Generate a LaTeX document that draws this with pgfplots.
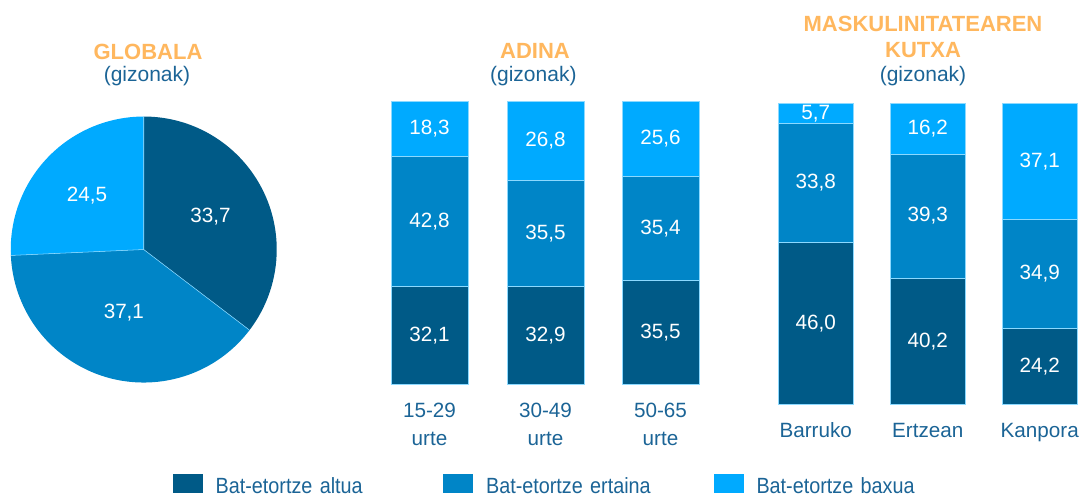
\documentclass[border=0pt]{standalone}
\usepackage{fontspec}
\setmainfont{Liberation Sans}
\newfontfamily\condfont[FakeStretch=0.9]{Liberation Sans}
\usepackage{pgfplots}
\pgfplotsset{compat=1.18}
\usepackage{pgfplotstable}

\definecolor{cA}{RGB}{0,90,135}
\definecolor{cB}{RGB}{0,133,199}
\definecolor{cC}{RGB}{0,170,255}
\definecolor{titleor}{RGB}{255,183,94}
\definecolor{txtblue}{RGB}{27,100,150}

% GLOBALA pie (gizonak)
\pgfplotstableread{
seg value
altua 33.7
ertaina 37.1
baxua 24.5
}\globaltable

\pgfplotsset{
  barax/.style={
    scale only axis, width=57.75pt,
    xmin=-0.5, xmax=0.5, ymin=0,
    ybar stacked, bar width=1,
    axis line style={draw=none}, major tick length=0pt,
    ytick=\empty, xtick={0},
    xticklabel style={font=\fontsize{15.5}{21}\selectfont, text=txtblue,
      align=center, anchor=north, inner sep=0pt, yshift=-13.8pt},
    every axis plot/.append style={draw=white!55!cC, line width=0.4pt},
    clip=false,
  },
  agebar/.style={barax, height=212.5pt, anchor=south west},
  maskbar/.style={barax, width=56.25pt, height=225.75pt, anchor=south west},
}
\newcommand\lbl[1]{\pgfmathprintnumber[use comma, fixed, fixed zerofill, precision=1, assume math mode=true]{#1}}
\tikzset{vlab/.style={text=white, font=\fontsize{15.5}{18}\selectfont}}
% one stacked bar: style, position, tick label, altua, ertaina, baxua, axis height (pt)
\newcommand\stackbar[7]{%
  \pgfmathsetmacro\bartot{#4+#5+#6}%
  \pgfmathsetmacro\barscl{#7/\bartot}%
  \pgfmathsetmacro\offA{\barscl*(#4/2)}%
  \pgfmathsetmacro\offB{\barscl*(#4+#5/2)}%
  \pgfmathsetmacro\offC{\barscl*(#4+#5+#6/2)}%
  \begin{axis}[#1, at={#2}, ymax=\bartot, xticklabels={#3}, name=bar]
  \addplot[fill=cA] coordinates {(0,#4)};
  \addplot[fill=cB] coordinates {(0,#5)};
  \addplot[fill=cC] coordinates {(0,#6)};
  \end{axis}
  \node[vlab] at ([yshift=\offA pt]bar.south) {\lbl{#4}};
  \node[vlab] at ([yshift=\offB pt]bar.south) {\lbl{#5}};
  \node[vlab] at ([yshift=\offC pt]bar.south) {\lbl{#6}};}

\begin{document}
\begin{tikzpicture}
\useasboundingbox (0,0) rectangle (812.25pt,374.25pt);

% ---- titles
\node[anchor=base, font=\bfseries\fontsize{16.5}{18}\selectfont, text=titleor] at (111pt,329.8pt) {GLOBALA};
\node[anchor=base, font=\fontsize{15.75}{18}\selectfont, text=txtblue] at (110.25pt,313.1pt) {(gizonak)};
\node[anchor=base, font=\bfseries\fontsize{16.5}{18}\selectfont, text=titleor] at (401.25pt,330pt) {ADINA};
\node[anchor=base, font=\fontsize{15.75}{18}\selectfont, text=txtblue] at (400pt,313.1pt) {(gizonak)};
\node[anchor=base, font=\bfseries\fontsize{16.5}{18}\selectfont, text=titleor] at (692.25pt,350.5pt) {MASKULINITATEAREN};
\node[anchor=base, font=\bfseries\fontsize{16.5}{18}\selectfont, text=titleor] at (692.25pt,331pt) {KUTXA};
\node[anchor=base, font=\fontsize{15.75}{18}\selectfont, text=txtblue] at (692.25pt,313.1pt) {(gizonak)};

% ---- pie angles from the table
\pgfplotstablegetelem{0}{value}\of\globaltable \let\vA\pgfplotsretval
\pgfplotstablegetelem{1}{value}\of\globaltable \let\vB\pgfplotsretval
\pgfplotstablegetelem{2}{value}\of\globaltable \let\vC\pgfplotsretval
\pgfmathsetmacro\ptot{\vA+\vB+\vC}
\pgfmathsetmacro\aA{90}
\pgfmathsetmacro\aB{\aA-360*\vA/\ptot}
\pgfmathsetmacro\aC{\aB-360*\vB/\ptot}
\pgfmathsetmacro\aD{\aC-360*\vC/\ptot}
\pgfmathsetmacro\xA{cos(\aA)}\pgfmathsetmacro\yA{sin(\aA)}
\pgfmathsetmacro\xB{cos(\aB)}\pgfmathsetmacro\yB{sin(\aB)}
\pgfmathsetmacro\xC{cos(\aC)}\pgfmathsetmacro\yC{sin(\aC)}
\pgfmathsetmacro\mAx{0.56*cos((\aA+\aB)/2)}\pgfmathsetmacro\mAy{0.56*sin((\aA+\aB)/2)}
\pgfmathsetmacro\mBx{0.50*cos((\aB+\aC)/2)}\pgfmathsetmacro\mBy{0.50*sin((\aB+\aC)/2)}
\pgfmathsetmacro\mCx{0.59*cos((\aC+\aD)/2)}\pgfmathsetmacro\mCy{0.59*sin((\aC+\aD)/2)}

\begin{axis}[
  at={(107.8pt,187.1pt)}, anchor=center,
  scale only axis, width=199.5pt, height=199.5pt,
  xmin=-1, xmax=1, ymin=-1, ymax=1,
  hide axis, clip=false,
  legend columns=3,
  legend image code/.code={\fill[#1] (0pt,-4.4pt) rectangle (22.5pt,9.85pt);},
  legend style={at={(axis description cs:0.6075,-0.385)}, anchor=west,
    draw=none, fill=none, inner sep=0pt,
    font=\condfont\fontsize{16.5}{18}\selectfont, text=txtblue,
    nodes={inner sep=0pt, text width=170.6pt, align=left},
    /tikz/every odd column/.append style={column sep=9.75pt}},
]
\fill[cA] (axis cs:0,0) -- (axis cs:\xA,\yA) arc[start angle=\aA, end angle=\aB, radius=99.75pt] -- cycle;
\fill[cB] (axis cs:0,0) -- (axis cs:\xB,\yB) arc[start angle=\aB, end angle=\aC, radius=99.75pt] -- cycle;
\fill[cC] (axis cs:0,0) -- (axis cs:\xC,\yC) arc[start angle=\aC, end angle=\aD, radius=99.75pt] -- cycle;
\draw[white!55!cC, line width=0.4pt] (axis cs:\xA,\yA) -- (axis cs:0,0) -- (axis cs:\xB,\yB) (axis cs:0,0) -- (axis cs:\xC,\yC);
\node[vlab] at (axis cs:\mAx,\mAy) {\lbl{\vA}};
\node[vlab] at (axis cs:\mBx,\mBy) {\lbl{\vB}};
\node[vlab] at (axis cs:\mCx,\mCy) {\lbl{\vC}};
\addlegendimage{fill=cA, draw=none}
\addlegendentry{Bat-etortze altua}
\addlegendimage{fill=cB, draw=none}
\addlegendentry{Bat-etortze ertaina}
\addlegendimage{fill=cC, draw=none}
\addlegendentry{Bat-etortze baxua}
\end{axis}

% ---- ADINA
\stackbar{agebar}{(293.25pt,86pt)}{15-29\\urte}{32.1}{42.8}{18.3}{212.5}
\stackbar{agebar}{(380.25pt,86pt)}{30-49\\urte}{32.9}{35.5}{26.8}{212.5}
\stackbar{agebar}{(466.5pt,86pt)}{50-65\\urte}{35.5}{35.4}{25.6}{212.5}

% ---- MASKULINITATEAREN KUTXA
\stackbar{maskbar}{(583.7pt,71pt)}{Barruko}{46.0}{33.8}{5.7}{225.75}
\stackbar{maskbar}{(667.7pt,71pt)}{Ertzean}{40.2}{39.3}{16.2}{225.75}
\stackbar{maskbar}{(751.7pt,71pt)}{Kanpora}{24.2}{34.9}{37.1}{225.75}
\end{tikzpicture}
\end{document}
